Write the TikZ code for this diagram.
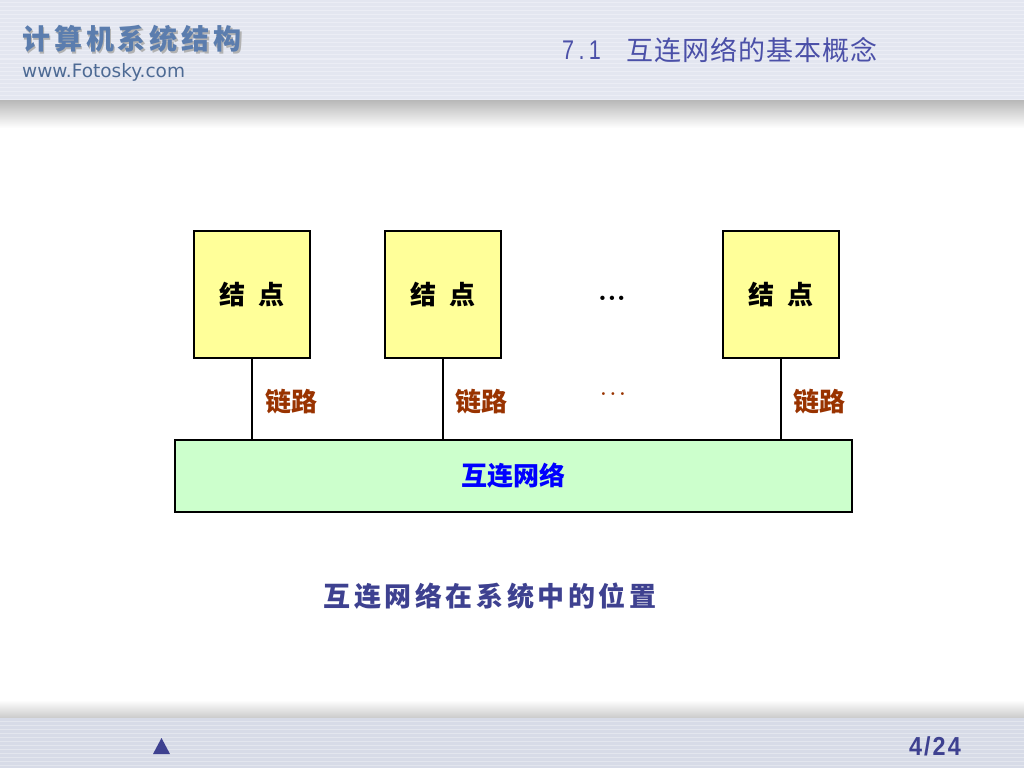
\documentclass[tikz,border=0pt]{standalone}
\usepackage{fontspec}
\newfontfamily\cjk{Noto Sans CJK SC}
\newfontfamily\titlefont[LetterSpace=14]{Noto Sans CJK SC}
\newfontfamily\capfont[LetterSpace=13]{Noto Sans CJK SC}
\newfontfamily\secfont[LetterSpace=4]{Noto Sans CJK SC}
\newfontfamily\secnum[FakeStretch=0.8,LetterSpace=16]{Liberation Sans}
\newfontfamily\numfont[FakeStretch=0.9,LetterSpace=8]{Liberation Sans}
\newfontfamily\urlfont{DejaVu Sans}
\definecolor{hdr}{HTML}{E3E6F0}
\definecolor{ftr}{HTML}{D7DBE7}
\definecolor{titleblue}{HTML}{5B7DAE}
\definecolor{secblue}{HTML}{4B50A8}
\definecolor{capblue}{HTML}{3E4190}
\definecolor{nodeyellow}{HTML}{FFFF99}
\definecolor{netgreen}{HTML}{CCFFCC}
\definecolor{linkbrown}{HTML}{993300}
\tikzset{
  nodebox/.style={draw=black, line width=2pt, fill=nodeyellow, minimum width=116pt, minimum height=127pt, inner sep=0pt,
    font=\cjk\bfseries\fontsize{26}{30}\selectfont},
  netbox/.style={draw=black, line width=2pt, fill=netgreen, minimum width=677pt, minimum height=72pt, inner sep=0pt,
    font=\cjk\bfseries\fontsize{26}{30}\selectfont, text=blue},
  linklabel/.style={font=\cjk\bfseries\fontsize{26}{30}\selectfont, text=linkbrown, inner sep=0pt},
  wire/.style={draw=black, line width=2pt}
}
\begin{document}
\begin{tikzpicture}[x=1pt,y=-1pt]
\useasboundingbox (0,0) rectangle (1024,768);
\fill[white] (0,0) rectangle (1024,768);
% header
\shade[top color=black!30, bottom color=white] (0,98) rectangle (1024,128);
\fill[hdr] (0,0) rectangle (1024,100);
\foreach \yy in {3,7,...,99} \draw[white!30!hdr, line width=1pt] (0,\yy) -- (1024,\yy);
\node[anchor=west, inner sep=0pt, text=black!30, font=\titlefont\bfseries\fontsize{28}{30}\selectfont] (titleshadow) at (23.5,41) {计算机系统结构};
\node[anchor=west, inner sep=0pt, text=titleblue, font=\titlefont\bfseries\fontsize{28}{30}\selectfont] (title) at (22,39) {计算机系统结构};
\node[anchor=west, inner sep=0pt, text=titleblue!85!black, font=\urlfont\fontsize{18.5}{20}\selectfont] (url) at (22,72) {www.Fotosky.com};
\node[anchor=west, inner sep=0pt, text=secblue, font=\secnum\fontsize{27}{30}\selectfont] (secnum) at (562,50) {7.1};
\node[anchor=west, inner sep=0pt, text=secblue, font=\secfont\fontsize{27}{30}\selectfont] (sec) at (626,50) {互连网络的基本概念};
% footer
\shade[top color=white, bottom color=black!22] (0,700) rectangle (1024,719);
\fill[ftr] (0,718) rectangle (1024,768);
\foreach \yy in {721,725,...,767} \draw[white!30!ftr, line width=1pt] (0,\yy) -- (1024,\yy);
\fill[capblue] (153,754) -- (161.5,738) -- (170,754) -- cycle;
\node[anchor=east, inner sep=0pt, text=capblue, font=\numfont\bfseries\fontsize{26}{28}\selectfont] (page) at (961,746) {4/24};
% diagram
\node[nodebox] (n1) at (252,294.5) {结\hspace{0.5em}点};
\node[nodebox] (n2) at (442.5,294.5) {结\hspace{0.5em}点};
\node[nodebox] (n3) at (780.5,294.5) {结\hspace{0.5em}点};
\node[inner sep=0pt, font=\bfseries\fontsize{30}{32}\selectfont] (dots1) at (612,298) {...};
\node[netbox] (net) at (513.5,476) {互连网络};
\draw[wire] (n1.south) -- (n1.south |- net.north);
\draw[wire] (n2.south) -- (n2.south |- net.north);
\draw[wire] (n3.south) -- (n3.south |- net.north);
\node[linklabel] (l1) at (291,402) {链路};
\node[linklabel] (l2) at (481,402) {链路};
\node[linklabel] (l3) at (819,402) {链路};
\node[inner sep=0pt, text=linkbrown, font=\bfseries\fontsize{20}{22}\selectfont] (dots2) at (613,394) {.\,.\,.};
\node[inner sep=0pt, text=capblue, font=\capfont\bfseries\fontsize{27}{30}\selectfont] (cap) at (490,596) {互连网络在系统中的位置};
\end{tikzpicture}
\end{document}
